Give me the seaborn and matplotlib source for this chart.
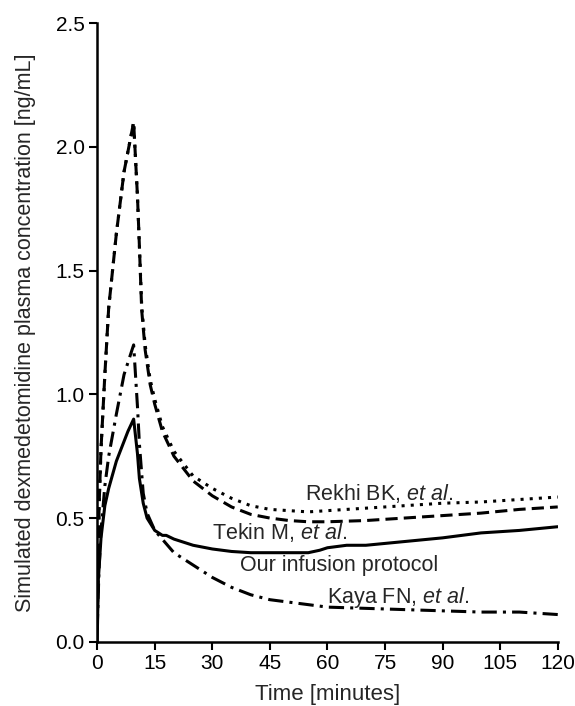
import pandas as pd
import matplotlib
matplotlib.use("Agg")
import matplotlib.pyplot as plt
import seaborn as sns

# Valeurs (temps en minutes, concentration en ng/mL)
rekhi_t = [0, 0.5, 1, 2, 3, 5, 7, 9.5, 10.5, 11, 11.6, 12.5, 13.8, 15, 17, 20, 25, 30, 35, 40, 45, 50, 55, 60, 70, 80, 90, 100, 110, 120]
rekhi_c = [0.05, 0.55, 0.78, 1.08, 1.35, 1.65, 1.9, 2.1, 1.8, 1.6, 1.36, 1.2, 1.06, 0.98, 0.87, 0.77, 0.67, 0.62, 0.58, 0.55, 0.535, 0.53, 0.525, 0.53, 0.54, 0.55, 0.56, 0.565, 0.575, 0.585]

tekin_t = [0, 0.5, 1, 2, 3, 5, 7, 9.5, 10.5, 11, 11.6, 12.5, 13.8, 15, 17, 20, 25, 30, 35, 40, 45, 50, 55, 60, 70, 80, 90, 100, 110, 120]
tekin_c = [0.05, 0.55, 0.78, 1.08, 1.35, 1.65, 1.9, 2.1, 1.8, 1.6, 1.34, 1.18, 1.04, 0.96, 0.85, 0.75, 0.65, 0.59, 0.545, 0.515, 0.5, 0.49, 0.485, 0.485, 0.49, 0.5, 0.51, 0.52, 0.535, 0.545]

our_t = [0, 0.3, 1, 2, 3, 5, 7, 8, 9.5, 10.5, 11, 12, 13, 15, 17, 18, 20, 25, 30, 35, 40, 45, 50, 55, 58, 60, 65, 70, 80, 90, 100, 110, 120]
our_c = [0.0, 0.25, 0.42, 0.55, 0.62, 0.73, 0.81, 0.85, 0.9, 0.76, 0.66, 0.56, 0.5, 0.45, 0.43, 0.43, 0.415, 0.39, 0.375, 0.365, 0.36, 0.36, 0.36, 0.36, 0.37, 0.38, 0.39, 0.39, 0.405, 0.42, 0.44, 0.45, 0.465]

kaya_t = [0, 0.5, 1, 2, 3, 5, 7, 9.5, 10.5, 11, 12, 13, 15, 20, 25, 30, 35, 40, 45, 50, 60, 70, 80, 90, 100, 110, 120]
kaya_c = [0.05, 0.3, 0.45, 0.63, 0.75, 0.92, 1.08, 1.2, 0.95, 0.8, 0.6, 0.52, 0.45, 0.36, 0.31, 0.26, 0.22, 0.19, 0.17, 0.16, 0.14, 0.135, 0.13, 0.125, 0.12, 0.12, 0.11]

labels = ["Rekhi BK, ", "Tekin M, ", "Our infusion protocol", "Kaya FN, "]
label_x = [73.5, 47.5, 63, 78.5]
label_y = [0.60, 0.44, 0.31, 0.18]

sns.set_style("ticks")
plt.rcParams["font.family"] = ["Liberation Sans", "DejaVu Sans"]
plt.rcParams["mathtext.fontset"] = "custom"
plt.rcParams["mathtext.it"] = "Liberation Sans:italic"
plt.rcParams["mathtext.rm"] = "Liberation Sans"

fig = plt.figure(figsize=(5.75, 7.06), dpi=100)
ax = fig.add_axes([0.169, 0.091, 0.801, 0.876])

series = [
    (rekhi_t, rekhi_c, (1, 2)),
    (tekin_t, tekin_c, (4, 2)),
    (our_t, our_c, ""),
    (kaya_t, kaya_c, (5, 2, 1, 2)),
]
for t, c, dash in series:
    df = pd.DataFrame({"t": t, "c": c})
    sns.lineplot(data=df, x="t", y="c", ax=ax, color="black", linewidth=2.2)
    if dash:
        ax.lines[-1].set_dashes(dash)

# Étiquettes des courbes
for i, (txt, x, y) in enumerate(zip(labels, label_x, label_y)):
    if i == 2:
        ax.text(x, y, txt, ha="center", va="center", fontsize=15.5)
    else:
        ax.text(x, y, txt + r"$\it{et\ al}$.", ha="center", va="center", fontsize=15.5)

ax.set_xlim(0, 120)
ax.set_ylim(0, 2.5)
ax.set_xticks(range(0, 121, 15))
ax.set_yticks([0, 0.5, 1.0, 1.5, 2.0, 2.5])
ax.set_yticklabels(["0.0", "0.5", "1.0", "1.5", "2.0", "2.5"])
ax.tick_params(labelsize=15, width=1.5, length=6, color="black", labelcolor="black", pad=3)
ax.set_xlabel("Time [minutes]", fontsize=16, labelpad=8)
ax.set_ylabel("Simulated dexmedetomidine plasma concentration [ng/mL]", fontsize=15.5, labelpad=14)
for s in ["left", "bottom"]:
    ax.spines[s].set_linewidth(1.8)
    ax.spines[s].set_color("black")
sns.despine(ax=ax)

fig.savefig("out.png", dpi=100)
